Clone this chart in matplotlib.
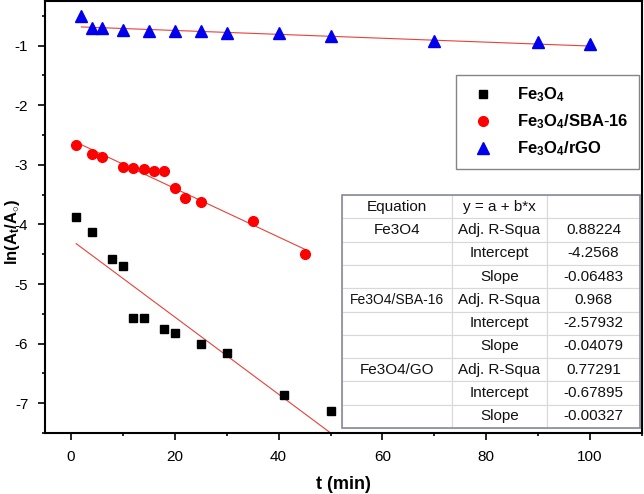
import matplotlib
matplotlib.use("Agg")
import matplotlib.pyplot as plt
import matplotlib.patches as mpatches
import numpy as np
from matplotlib.ticker import MultipleLocator

plt.rcParams['font.family'] = ['Liberation Sans', 'DejaVu Sans']
plt.rcParams['mathtext.fontset'] = 'custom'
plt.rcParams['mathtext.rm'] = 'Liberation Sans'
plt.rcParams['mathtext.bf'] = 'Liberation Sans:bold'
plt.rcParams['mathtext.it'] = 'Liberation Sans:italic'
plt.rcParams['axes.unicode_minus'] = False

# Data
t_fe = [1, 4, 8, 10, 12, 14, 18, 20, 25, 30, 41, 50]
y_fe = [-3.88, -4.13, -4.58, -4.69, -5.57, -5.57, -5.76, -5.83, -6.00, -6.16, -6.87, -7.13]
t_sba = [1, 4, 6, 10, 12, 14, 16, 18, 20, 22, 25, 35, 45]
y_sba = [-2.67, -2.82, -2.86, -3.04, -3.06, -3.07, -3.11, -3.11, -3.39, -3.56, -3.63, -3.94, -4.50]
t_rgo = [2, 4, 6, 10, 15, 20, 25, 30, 40, 50, 70, 90, 100]
y_rgo = [-0.50, -0.70, -0.70, -0.73, -0.76, -0.76, -0.76, -0.79, -0.79, -0.84, -0.92, -0.94, -0.98]

fit_fe = (-4.2568, -0.06483)
fit_sba = (-2.57932, -0.04079)
fit_rgo = (-0.67895, -0.00327)

table_rows = [
    ["Equation", "y = a + b*x", ""],
    ["Fe3O4", "Adj. R-Squa", "0.88224"],
    ["", "Intercept", "-4.2568"],
    ["", "Slope", "-0.06483"],
    ["Fe3O4/SBA-16", "Adj. R-Squa", "0.968"],
    ["", "Intercept", "-2.57932"],
    ["", "Slope", "-0.04079"],
    ["Fe3O4/GO", "Adj. R-Squa", "0.77291"],
    ["", "Intercept", "-0.67895"],
    ["", "Slope", "-0.00327"],
]

fig = plt.figure(figsize=(6.44, 4.94), dpi=100)
ax = fig.add_axes([45/644, 61/494, 597/644, 432/494])

line_color = '#e8403a'
for (t, fit) in [(t_fe, fit_fe), (t_sba, fit_sba), (t_rgo, fit_rgo)]:
    xs = np.array([t[0], t[-1]], dtype=float)
    ax.plot(xs, fit[0] + fit[1] * xs, color=line_color, lw=0.8, zorder=2)

ax.plot(t_fe, y_fe, 's', color='black', ms=6.3, ls='none', zorder=3,
        label=r'$\mathbf{Fe_3O_4}$')
ax.plot(t_sba, y_sba, 'o', color='#ff0000', ms=7, ls='none', zorder=3,
        label=r'$\mathbf{Fe_3O_4/SBA\text{-}16}$')
ax.plot(t_rgo, y_rgo, '^', color='#0000ee', ms=8.5, ls='none', zorder=3,
        label=r'$\mathbf{Fe_3O_4/rGO}$')

ax.set_xlim(-5, 110)
ax.set_ylim(-7.5, -0.25)
ax.xaxis.set_major_locator(MultipleLocator(20))
ax.xaxis.set_minor_locator(MultipleLocator(10))
ax.yaxis.set_major_locator(MultipleLocator(1))
ax.yaxis.set_minor_locator(MultipleLocator(0.5))
ax.tick_params(which='major', direction='out', length=5, width=1.2, labelsize=11, pad=7)
ax.tick_params(which='minor', direction='out', length=2.5, width=1.2)
for s in ax.spines.values():
    s.set_linewidth(1.5)

ax.set_xlabel('t (min)', fontsize=13, fontweight='bold', labelpad=9)
ax.set_ylabel(r'$\mathbf{ln(A_t/A_{\circ})}$', fontsize=12)
ax.yaxis.set_label_coords(-0.038, 0.465)

leg = ax.legend(loc='upper left', bbox_to_anchor=(0.688, 0.829), fontsize=12,
                frameon=True, fancybox=False, edgecolor='#666666',
                borderpad=0.65, labelspacing=0.5, handletextpad=1.0,
                borderaxespad=0)
leg.get_frame().set_linewidth(1.0)

tbl = ax.table(cellText=table_rows, cellLoc='center',
               colWidths=[0.369, 0.319, 0.312],
               bbox=[0.4975, 0.0116, 0.499, 0.539], zorder=5)
tbl.auto_set_font_size(False)
tbl.set_fontsize(11)
for (r, c), cell in tbl.get_celld().items():
    cell.set_edgecolor('#d8d8d8')
    cell.set_linewidth(0.8)
    cell.set_facecolor('white')
    cell.get_text().set_color('#111111')
tbl[(4, 0)].get_text().set_fontsize(10)

# outer border of table
ax.add_patch(mpatches.Rectangle((0.4975, 0.0116), 0.499, 0.539, transform=ax.transAxes,
                                fill=False, edgecolor='#8a8a9a', lw=1.2, zorder=6))

fig.savefig('out.png', dpi=100)
